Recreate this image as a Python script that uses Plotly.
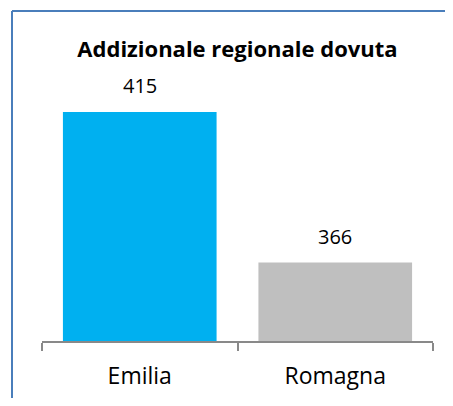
import plotly.graph_objects as go

categories = ["Emilia", "Romagna"]
values = [415, 366]
bar_colors = ["#00B0F0", "#BFBFBF"]
title_text = "Addizionale regionale dovuta"

FONT = "Open Sans"

# page body has an 8px margin; layout is laid out in figure coordinates
W, H = 445, 390
L, R, T, B = 34, 20, 87, 57
PW = W - L - R
PH = H - T - B

fig = go.Figure()
fig.add_trace(go.Bar(
    x=categories, y=values,
    marker=dict(color=bar_colors, line=dict(width=0)),
    hoverinfo="skip",
))

for c, v in zip(categories, values):
    fig.add_annotation(x=c, y=v, text=str(v), showarrow=False,
                       yshift=26, xref="x", yref="y",
                       font=dict(family=FONT, size=20, color="#000000"))

# outer chart border (left and top edges; others lie outside the view)
x_l = (4 - L) / PW
y_t = (H - B - 3) / PH
y_b = -(B + 10) / PH
x_r = (W - L + 10) / PW
border = dict(color="#4A7EBB", width=2)
fig.add_shape(type="line", xref="paper", yref="paper",
              x0=x_l, x1=x_l, y0=y_b, y1=y_t, line=border, layer="above")
fig.add_shape(type="line", xref="paper", yref="paper",
              x0=x_l, x1=x_r, y0=y_t, y1=y_t, line=border, layer="above")

fig.update_layout(
    width=W, height=H,
    margin=dict(l=L, r=R, t=T, b=B, pad=0, autoexpand=False),
    paper_bgcolor="white", plot_bgcolor="white",
    showlegend=False,
    bargap=0.214,
    title=dict(text="<b>" + title_text + "</b>", x=0.5, xref="paper",
               y=1 - 41 / H, yanchor="middle", xanchor="center",
               font=dict(family=FONT, size=22, color="#000000")),
    xaxis=dict(showline=True, linecolor="#898989", linewidth=1.5,
               ticks="outside", tickson="boundaries", ticklen=8,
               tickcolor="#898989", tickwidth=1.5,
               tickfont=dict(family=FONT, size=23, color="#000000"),
               ticklabelstandoff=14, showgrid=False, automargin=False),
    yaxis=dict(range=[340.5, 420.5], visible=False, showgrid=False,
               automargin=False),
)

fig.write_html("out.html", config={"displayModeBar": False})
